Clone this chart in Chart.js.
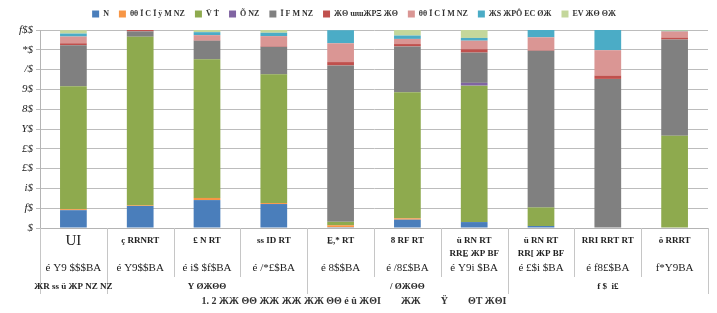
<!DOCTYPE html>
<html>
<head>
<meta charset="utf-8">
<script src="https://cdn.jsdelivr.net/npm/chart.js@4/dist/chart.umd.min.js"></script>
<style>
  html, body { margin: 0; padding: 0; background: #fff; }
  #wrap { width: 717px; height: 313px; }
</style>
</head>
<body>
<div id="wrap"><canvas id="chart"></canvas></div>
<script>
// Categories (first row of the axis table), counts (second row), groups (third row)
const categories = ['UI', 'ç RRNRT', '£ N RT', 'ss ID RT', 'E̲,* RT', '8 RF RT',
    ['ü RN RT', 'RRE̲ ЖP BF'], ['ü RN RT', 'RR[ ЖP BF'], 'RRI RRT RT', 'ö RRRT'];
const counts = ['é Y9 $$$BA', 'é Y9$$BA', 'é i$ $f$BA', 'é /*£$BA', 'é 8$$BA',
    'é /8£$BA', 'é Y9i $BA', 'é £$i $BA', 'é f8£$BA', 'f*Y9BA'];
const groupLabels = ['ЖR ss ü ЖP NZ NZ', 'Y ØЖΘΘ', '/ ØЖΘΘ', 'f $  i£'];
const groupSizes = [1, 3, 3, 3];
const yTickLabels = ['$', 'f$', 'i$', '£$', '£$', 'Y$', '8$', '9$', '/$', '*$', 'f$$'];

const seriesNames = ['N', 'θθ Ï C Ï ÿ M NZ', 'V̈ Ṫ', 'Õ NZ', 'Ī F M NZ', 'ЖΘ ɯɯЖΡΞ ЖΘ',
    'θθ Ï C Ï M NZ', 'ЖЅ ЖΡÔ ЕС ØЖ', 'ЕV ЖΘ ΘЖ'];

// Series values (percent of each bar)
const sBlue   = [9.0, 11.1, 14.1, 12.1, 0.4, 4.2, 3.0, 1.0, 0, 0];
const sOrange = [0.5, 0.3, 1.1, 0.5, 1.0, 0.7, 0, 0, 0, 0];
const sGreen  = [62.1, 85.2, 70.0, 65.0, 1.7, 63.6, 68.9, 9.4, 0, 46.6];
const sPurple = [0, 0, 0, 0, 0, 0, 1.4, 0, 0, 0];
const sGray   = [20.7, 2.7, 9.4, 13.9, 79.0, 23.2, 15.3, 79.1, 75.3, 48.6];
const sRed    = [1.0, 0.7, 0.2, 0.3, 1.7, 1.2, 1.7, 0.3, 1.7, 1.0];
const sPink   = [3.4, 0, 2.6, 5.1, 9.5, 2.6, 4.3, 6.5, 12.8, 3.1];
const sCyan   = [1.5, 0, 1.5, 1.7, 6.6, 1.7, 1.4, 4.1, 10.2, 0.3];
const sLtGrn  = [1.7, 0, 1.4, 1.7, 0, 2.9, 4.1, 0, 0, 0.7];

const colors = ['#4a7ebb', '#f79646', '#8eaa4e', '#8064a2', '#808080', '#c0504d', '#da9694', '#4bacc6', '#c4d79b'];
const values = [sBlue, sOrange, sGreen, sPurple, sGray, sRed, sPink, sCyan, sLtGrn];

const serif = "'Liberation Serif', serif";

// Fix the legend band height so the plot top lands where the reference has it
const legendHeight = {
    id: 'legendHeight',
    beforeLayout(chart) {
        const lg = chart.legend;
        if (lg && !lg._patched) {
            const fit = lg.fit.bind(lg);
            lg.fit = function () { fit(); this.height = 30; };
            lg._patched = true;
        }
    }
};

// Draws the three-row category table under the x axis
const axisTable = {
    id: 'axisTable',
    afterDraw(chart) {
        const { ctx, chartArea: a, scales: { x } } = chart;
        const n = categories.length;
        const step = (a.right - a.left) / n;
        const edges = [0];
        groupSizes.reduce((acc, s) => { edges.push(acc + s); return acc + s; }, 0);

        ctx.save();
        ctx.strokeStyle = '#c6c6c6';
        ctx.lineWidth = 1;
        for (let i = 0; i <= n; i++) {
            const px = Math.round(a.left + i * step) + 0.5;
            const full = edges.includes(i);
            ctx.beginPath();
            ctx.moveTo(px, a.bottom);
            ctx.lineTo(px, full ? a.bottom + 66 : a.bottom + 49);
            ctx.stroke();
        }

        ctx.fillStyle = '#222';
        ctx.textAlign = 'center';
        ctx.textBaseline = 'middle';
        categories.forEach((c, i) => {
            const cx = x.getPixelForValue(i);
            if (Array.isArray(c)) {
                ctx.font = 'bold 9px ' + serif;
                ctx.fillText(c[0], cx, a.bottom + 13);
                ctx.fillText(c[1], cx, a.bottom + 26);
            } else {
                ctx.font = (i === 0 ? '15px ' : 'bold 9px ') + serif;
                ctx.fillText(c, cx, a.bottom + 13);
            }
            ctx.font = '11px ' + serif;
            ctx.fillText(counts[i], cx, a.bottom + 40);
        });

        ctx.font = 'bold 9px ' + serif;
        for (let g = 0; g < groupSizes.length; g++) {
            const l = a.left + edges[g] * step;
            const r = a.left + edges[g + 1] * step;
            ctx.fillText(groupLabels[g], (l + r) / 2, a.bottom + 59);
        }
        ctx.restore();
    }
};

const ctx = document.getElementById('chart').getContext('2d');
new Chart(ctx, {
    type: 'bar',
    data: {
        labels: categories,
        datasets: values.map((v, i) => ({
            label: seriesNames[i],
            data: v,
            backgroundColor: colors[i],
            borderWidth: 0,
            barPercentage: 0.4,
            categoryPercentage: 1
        }))
    },
    options: {
        responsive: true,
        maintainAspectRatio: false,
        animation: false,
        layout: { padding: { left: 0, right: 9, top: 0, bottom: 0 } },
        plugins: {
            legend: {
                position: 'top',
                labels: {
                    boxWidth: 7,
                    boxHeight: 7,
                    padding: 10,
                    color: '#333',
                    font: { family: serif, size: 8, weight: 'bold' }
                }
            },
            title: {
                display: true,
                position: 'bottom',
                text: '1. 2 ЖЖ ΘΘ ЖЖ ЖЖ ЖЖ ΘΘ é û ЖΘΙ        ЖЖ        Ÿ        ΘΤ ЖΘΙ',
                color: '#333',
                font: { family: serif, size: 10, weight: 'bold' },
                padding: { top: 4, bottom: 6 }
            },
            tooltip: { enabled: false }
        },
        scales: {
            x: {
                stacked: true,
                grid: { display: false },
                border: { color: '#b4b4b4' },
                ticks: { display: false },
                afterFit(scale) { scale.height = 63; }
            },
            y: {
                stacked: true,
                min: 0,
                max: 100,
                grid: { color: '#bcbcbc', tickLength: 4 },
                border: { color: '#b4b4b4' },
                ticks: {
                    stepSize: 10,
                    color: '#222',
                    padding: 3,
                    font: { family: serif, size: 11, style: 'italic' },
                    callback: (v) => yTickLabels[Math.round(v / 10)]
                },
                afterFit(scale) { scale.width = 40; }
            }
        }
    },
    plugins: [legendHeight, axisTable]
});
</script>
</body>
</html>
